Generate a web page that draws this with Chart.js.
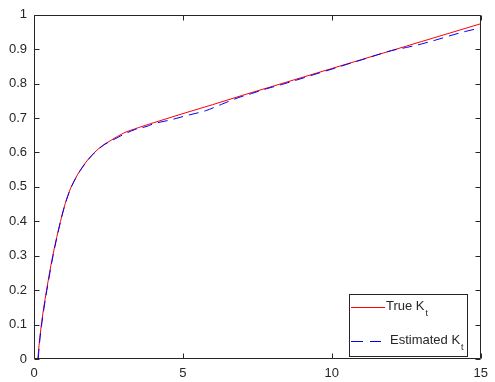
<!DOCTYPE html>
<html>
<head>
<meta charset="utf-8">
<script src="https://cdn.jsdelivr.net/npm/chart.js@4.4.0/dist/chart.umd.min.js"></script>
<style>
  html, body { margin: 0; padding: 0; background: #fff; }
  #wrap { width: 495px; height: 382px; position: relative; }
</style>
</head>
<body>
<div id="wrap"><canvas id="c" width="495" height="382"></canvas></div>
<script>
// ---- data ----
const xTicks = [0, 5, 10, 15];
const yTicks = [0, 0.1, 0.2, 0.3, 0.4, 0.5, 0.6, 0.7, 0.8, 0.9, 1];

const xTrue = [0.13, 0.18, 0.24, 0.32, 0.42, 0.63, 0.89, 1.05, 1.22, 1.4, 1.55, 1.8, 2.03, 2.33, 2.6, 3.0, 3.5, 4, 5, 6, 7, 8, 9, 10, 11, 12, 13, 14, 15];
const yTrue = [0, 0.05, 0.095, 0.145, 0.199, 0.3, 0.4, 0.452, 0.494, 0.526, 0.548, 0.578, 0.6, 0.622, 0.636, 0.656, 0.672, 0.686, 0.713, 0.739, 0.766, 0.792, 0.818, 0.844, 0.87, 0.896, 0.922, 0.948, 0.974];

const xEst = [0.14, 0.19, 0.25, 0.33, 0.43, 0.64, 0.89, 1.05, 1.22, 1.4, 1.55, 1.8, 2.03, 2.33, 2.6, 3.0, 3.4, 3.8, 4.0, 4.6, 5.2, 5.75, 6.3, 6.85, 7.3, 7.8, 8.3, 8.8, 9.1, 9.5, 10, 10.5, 11, 11.5, 12, 12.5, 13, 13.5, 14, 14.5, 15];
const yEst = [0, 0.05, 0.095, 0.145, 0.199, 0.3, 0.399, 0.451, 0.493, 0.525, 0.547, 0.577, 0.599, 0.621, 0.634, 0.652, 0.667, 0.676, 0.683, 0.695, 0.709, 0.721, 0.74, 0.759, 0.771, 0.785, 0.797, 0.81, 0.818, 0.829, 0.842, 0.856, 0.869, 0.883, 0.896, 0.905, 0.915, 0.927, 0.94, 0.952, 0.962];

const seriesNames = ['True K', 'Estimated K'];
const seriesSub = ['t', 't'];
const seriesColors = ['#ff0000', '#0000ff'];

const toPts = (xs, ys) => xs.map((x, i) => ({ x: x, y: ys[i] }));

const AXIS = '#262626';
const FONT = '"Liberation Sans", Arial, Helvetica, sans-serif';

const boxPlugin = {
  id: 'boxPlugin',
  afterDraw(chart) {
    const ctx = chart.ctx;
    const a = chart.chartArea;
    const xs = chart.scales.x, ys = chart.scales.y;
    const L = Math.round(a.left) + 0.5, R = Math.round(a.right) - 0.5;
    const T = Math.round(a.top) + 0.5, B = Math.round(a.bottom) - 0.5;
    const tl = 5;
    ctx.save();
    ctx.setLineDash([]);
    ctx.strokeStyle = AXIS;
    ctx.lineWidth = 1;
    ctx.beginPath();
    ctx.rect(L, T, R - L, B - T);
    xTicks.forEach(v => {
      const p = Math.round(xs.getPixelForValue(v)) + 0.5;
      ctx.moveTo(p, B); ctx.lineTo(p, B - tl);
      ctx.moveTo(p, T); ctx.lineTo(p, T + tl);
    });
    yTicks.forEach(v => {
      const p = Math.round(ys.getPixelForValue(v)) + 0.5;
      ctx.moveTo(L, p); ctx.lineTo(L + tl, p);
      ctx.moveTo(R, p); ctx.lineTo(R - tl, p);
    });
    ctx.stroke();

    // legend
    const bw = 118, bh = 62;
    const bx = Math.round(a.right) - 14 - bw;
    const by = Math.round(a.bottom) - 3 - bh;
    ctx.fillStyle = '#fff';
    ctx.fillRect(bx, by, bw, bh);
    ctx.strokeStyle = AXIS;
    ctx.strokeRect(bx + 0.5, by + 0.5, bw, bh);
    seriesNames.forEach((name, i) => {
      const cy = by + 13 + i * 34;
      ctx.fillStyle = seriesColors[i];
      if (i === 0) {
        ctx.fillRect(bx + 2, cy, 34, 1);
      } else {
        ctx.fillRect(bx + 2, cy, 12, 1);
        ctx.fillRect(bx + 21, cy, 11, 1);
      }
      ctx.fillStyle = AXIS;
      ctx.font = '13px ' + FONT;
      ctx.textBaseline = 'middle';
      ctx.textAlign = 'left';
      const tx = bx + (i === 0 ? 37 : 41);
      ctx.fillText(name, tx, cy - 1);
      const w = ctx.measureText(name).width;
      ctx.font = '9px ' + FONT;
      ctx.fillText(seriesSub[i], tx + w + 1, cy + 7);
    });
    ctx.restore();
  }
};

new Chart(document.getElementById('c'), {
  type: 'scatter',
  data: {
    datasets: [
      {
        label: seriesNames[0] + '_' + seriesSub[0],
        data: toPts(xTrue, yTrue),
        showLine: true,
        borderColor: seriesColors[0],
        borderWidth: 1,
        pointRadius: 0,
        cubicInterpolationMode: 'monotone',
        order: 2
      },
      {
        label: seriesNames[1] + '_' + seriesSub[1],
        data: toPts(xEst, yEst),
        showLine: true,
        borderColor: seriesColors[1],
        borderWidth: 1,
        borderDash: [10, 6],
        pointRadius: 0,
        cubicInterpolationMode: 'monotone',
        order: 1
      }
    ]
  },
  plugins: [boxPlugin],
  options: {
    responsive: false,
    animation: false,
    devicePixelRatio: 1,
    layout: { padding: { left: 0, right: 10, top: 12, bottom: 0 } },
    plugins: { legend: { display: false }, tooltip: { enabled: false } },
    scales: {
      x: {
        type: 'linear', min: 0, max: 15,
        afterFit(s) { s.height = 23; },
        afterBuildTicks(s) { s.ticks = xTicks.map(v => ({ value: v })); },
        grid: { display: false, drawTicks: false },
        border: { display: false },
        ticks: { color: AXIS, font: { family: FONT, size: 13 }, padding: 7, maxRotation: 0 }
      },
      y: {
        type: 'linear', min: 0, max: 1,
        afterFit(s) { s.width = 34; },
        afterBuildTicks(s) { s.ticks = yTicks.map(v => ({ value: v })); },
        grid: { display: false, drawTicks: false },
        border: { display: false },
        ticks: { color: AXIS, font: { family: FONT, size: 13 }, padding: 7,
                 callback: v => String(Math.round(v * 10) / 10) }
      }
    }
  }
});
</script>
</body>
</html>
